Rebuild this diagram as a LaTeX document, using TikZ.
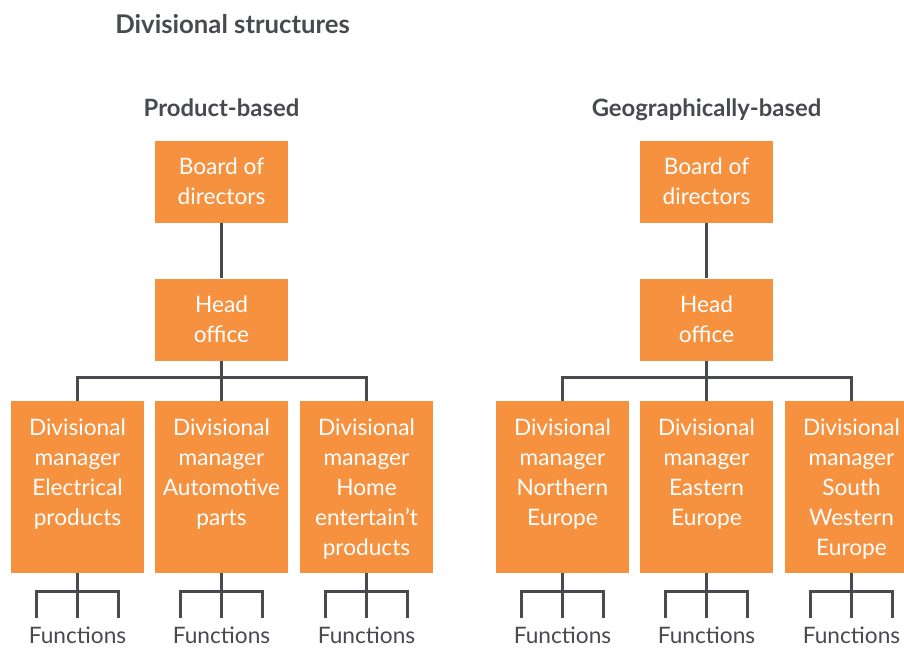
\documentclass[tikz,border=0pt]{standalone}
\usepackage{fontspec}
\setmainfont{Lato}
\usetikzlibrary{calc}
\definecolor{boxorange}{RGB}{246,145,64}
\definecolor{ink}{RGB}{72,74,79}
\newcommand\divtext[1]{\parbox[c][129pt][t]{99.75pt}{\centering\fontsize{17}{22.5}\selectfont\vspace*{9.75pt}\strut #1}}
\begin{document}
\begin{tikzpicture}[x=0.75pt,y=-0.75pt,
  conn/.style={draw=ink,line width=1.9pt},
  topbox/.style={fill=boxorange,text=white,minimum width=99.75pt,minimum height=61.5pt,inner sep=0pt,align=center,font=\fontsize{17}{22.5}\selectfont},
  divbox/.style={fill=boxorange,text=white,inner sep=0pt},
  heading/.style={text=ink,font=\bfseries\fontsize{17.9}{20}\selectfont,anchor=base},
  titletext/.style={text=ink,inner sep=0pt,font=\bfseries\fontsize{19.3}{22}\selectfont,anchor=base west},
  func/.style={text=ink,text depth=0pt,inner sep=0pt,font=\fontsize{17}{20}\selectfont,anchor=base}]
\useasboundingbox (0,0) rectangle (904,647);
\clip (0,0) rectangle (904,647);

\node[titletext] (title) at (115,33) {Divisional structures};
\node[heading] (hp) at (221.5,116) {Product-based};
\node[heading] (hg) at (706.5,116) {Geographically-based};

% product-based
\node[topbox] (b1) at (221.5,181.5) {Board of\\directors};
\node[topbox] (h1) at (221.5,319.5) {Head\\office};
\node[divbox] (d1) at (77.5,487) {\divtext{Divisional\\manager\\Electrical\\products}};
\node[divbox] (d2) at (221.5,487) {\divtext{Divisional\\manager\\Automotive\\parts}};
\node[divbox] (d3) at (366.5,487) {\divtext{Divisional\\manager\\Home\\entertain’t\\products}};

% geographically-based
\node[topbox] (b2) at (706.5,181.5) {Board of\\directors};
\node[topbox] (h2) at (706.5,319.5) {Head\\office};
\node[divbox] (d4) at (562.5,487) {\divtext{Divisional\\manager\\Northern\\Europe}};
\node[divbox] (d5) at (706.5,487) {\divtext{Divisional\\manager\\Eastern\\Europe}};
\node[divbox] (d6) at (851.5,487) {\divtext{Divisional\\manager\\South\\Western\\Europe}};

\draw[conn] (b1.south) -- (h1.north);
\draw[conn] (h1.south) -- (d2.north);
\draw[conn] (d1.north) -- ++(0,-23) -| (d3.north);
\draw[conn] (b2.south) -- (h2.north);
\draw[conn] (h2.south) -- (d5.north);
\draw[conn] (d4.north) -- ++(0,-23) -| (d6.north);

\foreach \d/\f in {d1/f1,d2/f2,d3/f3,d4/f4,d5/f5,d6/f6}{
  \draw[conn] (\d.south) -- ++(0,45);
  \draw[conn] ($(\d.south)+(-41,45)$) |- ($(\d.south)+(41,18)$) -- ++(0,27);
  \node[func] (\f) at ($(\d.south)+(0,70.5)$) {Functions};
}
\end{tikzpicture}
\end{document}
